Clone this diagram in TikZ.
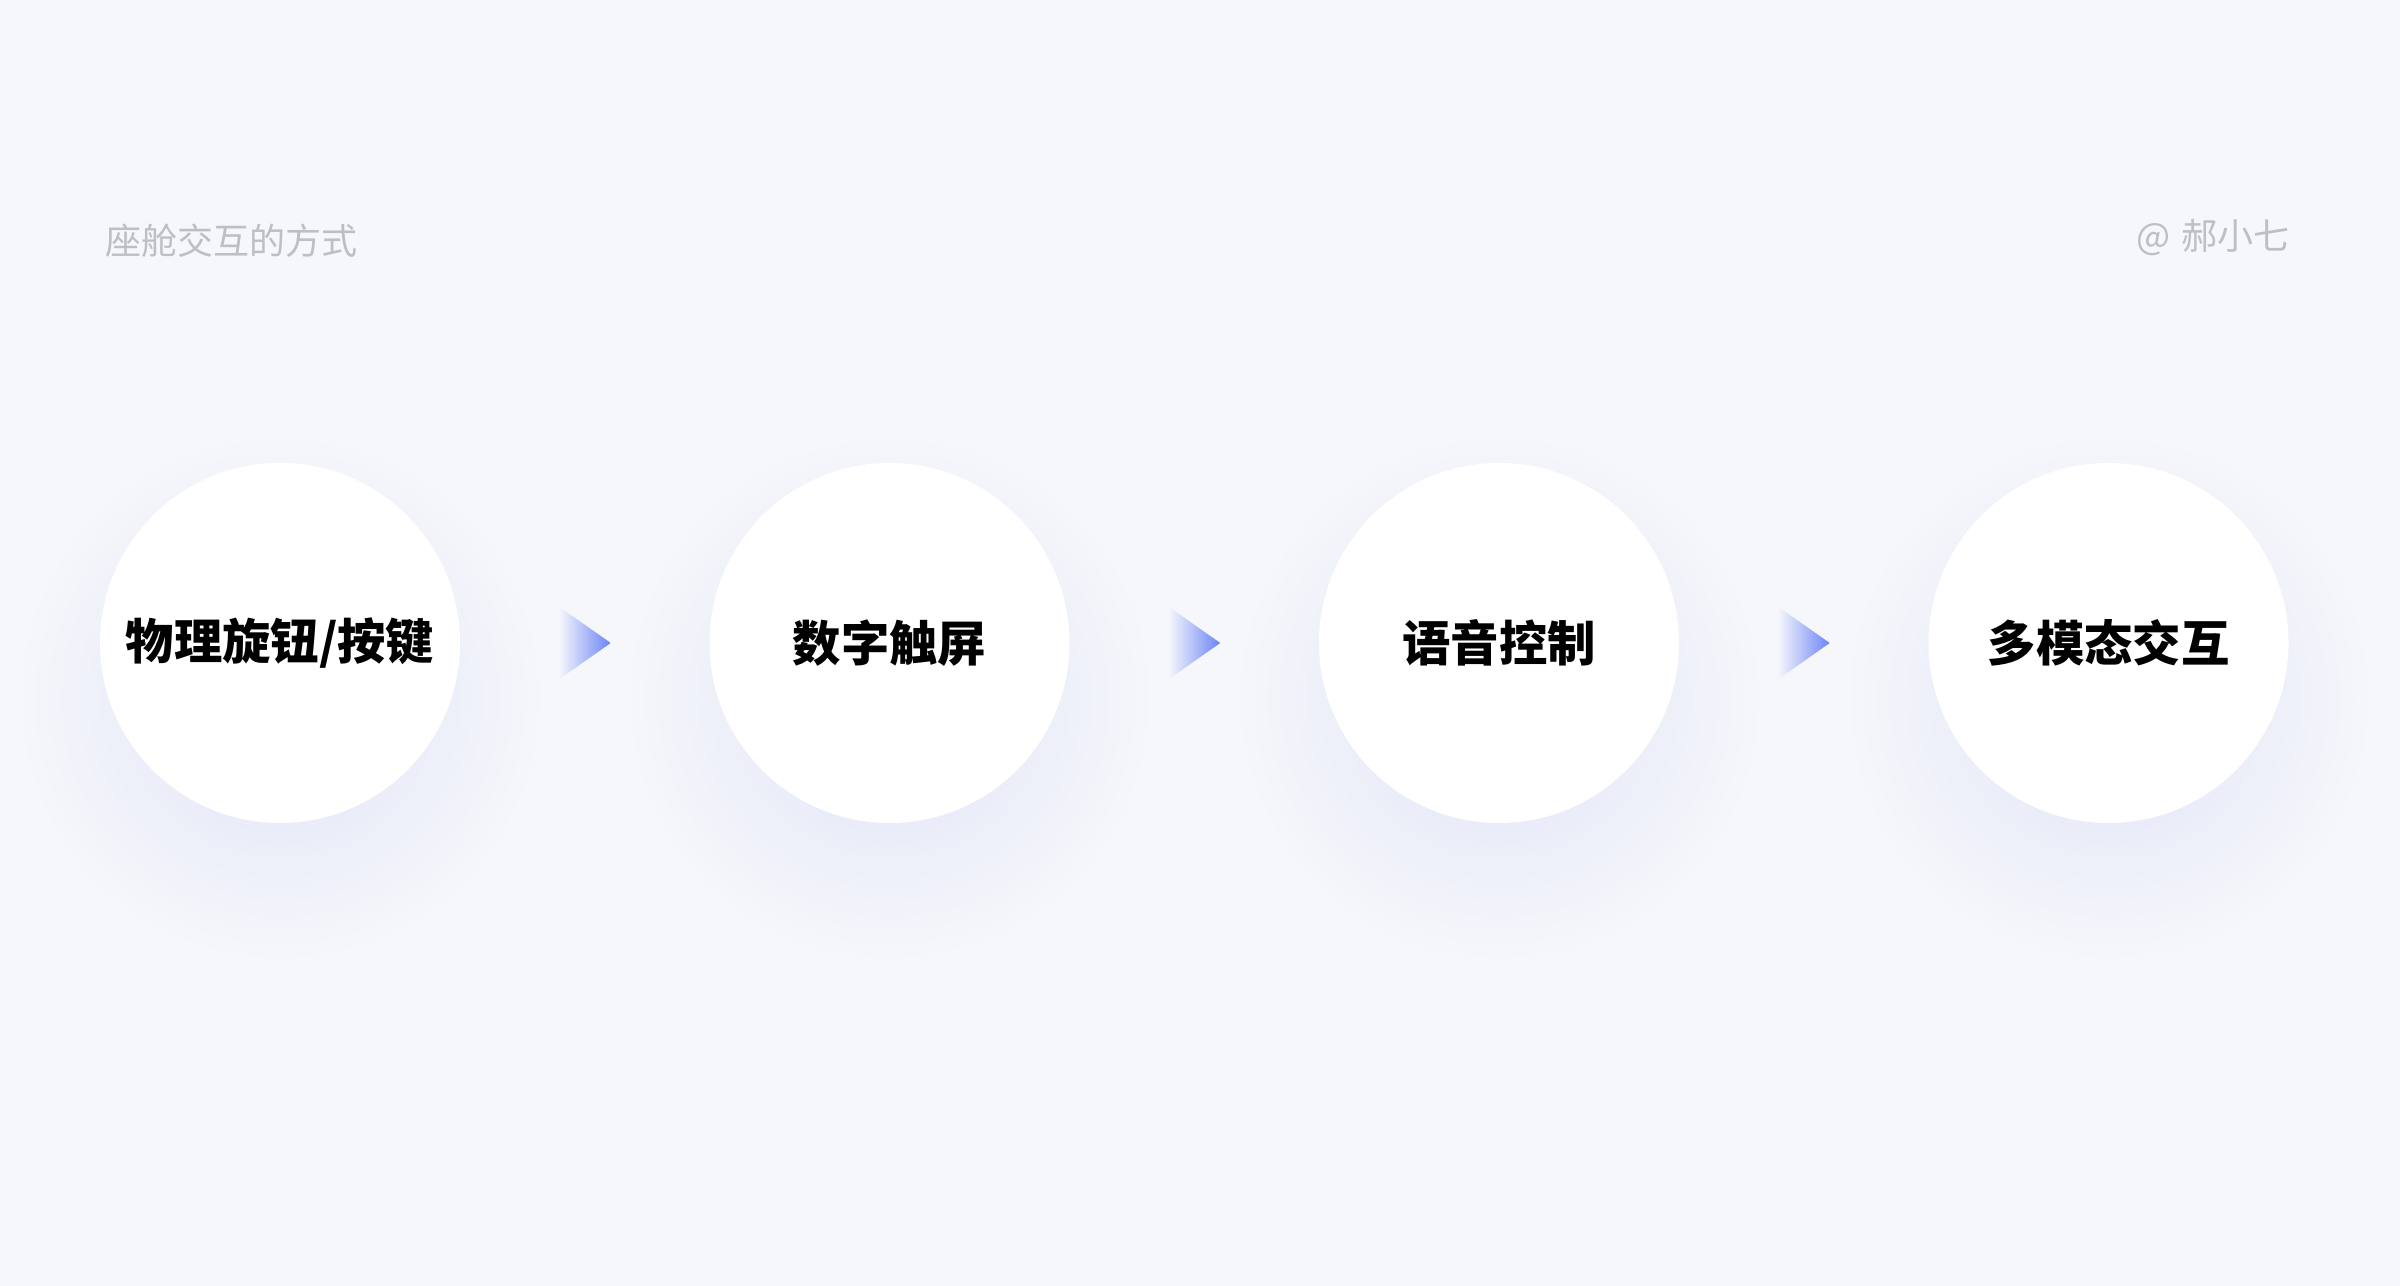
\documentclass[tikz,border=0pt]{standalone}
\usepackage{fontspec}
\newfontfamily\cjk{Noto Sans CJK SC}
\usetikzlibrary{positioning, calc}
\definecolor{pagebg}{RGB}{246,247,251}
\definecolor{glowc}{RGB}{231,234,248}
\definecolor{tipblue}{RGB}{108,132,246}
\definecolor{capgray}{RGB}{190,191,197}
\pgfdeclareradialshading{softglow}{\pgfpoint{0bp}{0bp}}{color(0bp)=(glowc); color(9bp)=(glowc); color(25bp)=(pagebg); color(50bp)=(pagebg)}
\tikzset{
  node distance=12.19cm,
  way/.style={circle, fill=white, minimum size=7.2cm, inner sep=0pt,
    font=\cjk\bfseries\fontsize{27.5}{30}\selectfont},
  glow/.style={shading=softglow},
  tip/.style={left color=pagebg, right color=tipblue},
  caption/.style={text=capgray, inner sep=0pt,
    font=\cjk\fontsize{20.5}{24}\selectfont},
}

\begin{document}
\begin{tikzpicture}
        \useasboundingbox (0,0) rectangle (48,25.72);
        \fill[pagebg] (0,0) rectangle (48,25.72);

        % centres
        \coordinate (p1) at (5.6,12.86);
        \coordinate[right of=p1] (p2);
        \coordinate[right of=p2] (p3);
        \coordinate[right of=p3] (p4);

        % shadows
        \foreach \i in {1,...,4}
          \shade[glow] ($(p\i)+(0,-1.1)$) circle (5.3);

        % ways
        \node[way] (w1) at (p1) {物理旋钮/按键};
        \node[way] (w2) at (p2) {数字触屏};
        \node[way] (w3) at (p3) {语音控制};
        \node[way] (w4) at (p4) {多模态交互};

        % arrows
        \foreach \a/\b in {1/2, 2/3, 3/4} {
          \coordinate (m\a) at ($(w\a)!0.5!(w\b)$);
          \shade[tip] ($(m\a)+(-0.52,0.73)$) -- ($(m\a)+(0.52,0)$)
                      -- ($(m\a)+(-0.52,-0.73)$) -- cycle;
        }

        % captions
        \node[caption, anchor=west] (title) at (2.1,20.9) {座舱交互的方式};
        \node[caption, anchor=east] (author) at (45.8,20.96) {@\hspace{0.3em}郝小七};
      \end{tikzpicture}
\end{document}
